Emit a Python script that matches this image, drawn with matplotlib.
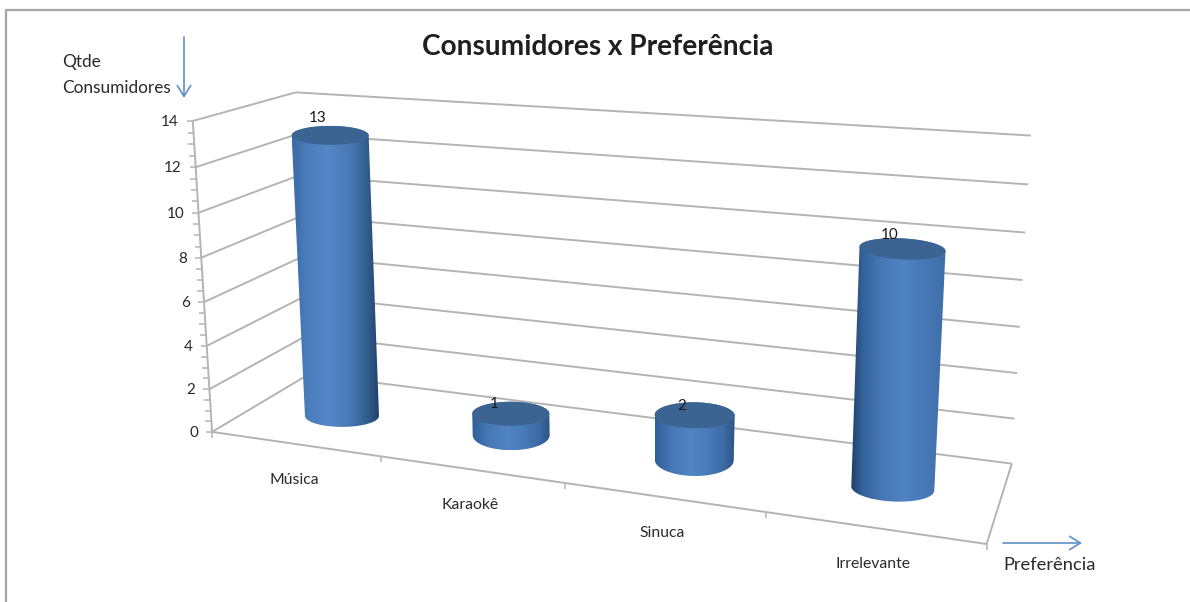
import numpy as np
import matplotlib
matplotlib.use("Agg")
import matplotlib.pyplot as plt
from matplotlib.colors import LinearSegmentedColormap
from matplotlib.patches import Polygon

categories = ["Música", "Karaokê", "Sinuca", "Irrelevante"]
values = [13, 1, 2, 10]
y_ticks = [0, 2, 4, 6, 8, 10, 12, 14]
title = "Consumidores x Preferência"

# ---- camera: (category, value, depth) -> pixel, solved from the frame of the picture
frame_calib = [
    ((0, 0, 0), (212, 432)), ((1, 0, 0), (380, 457)), ((2, 0, 0), (565, 483)),
    ((3, 0, 0), (766, 512)), ((4, 0, 0), (987, 543)),
    ((0, 2, 0), (210, 389)), ((0, 4, 0), (207, 345)), ((0, 6, 0), (204, 301)),
    ((0, 8, 0), (201, 257)), ((0, 10, 0), (198, 212)), ((0, 12, 0), (195, 166)),
    ((0, 14, 0), (191, 120)),
    ((0, 0, 1), (305, 375)), ((0, 12, 1), (298, 133)), ((0, 14, 1), (297, 91)),
    ((4, 0, 1), (1011, 463)), ((4, 2, 1), (1014, 419)), ((4, 4, 1), (1017, 373)),
    ((4, 6, 1), (1020, 327)), ((4, 8, 1), (1022, 279)), ((4, 10, 1), (1025, 232)),
    ((4, 12, 1), (1028, 184)), ((4, 14, 1), (1032, 133)),
]
bar_calib = [
    ((0.5, 0, .5), (343, 414)), ((1.5, 0, .5), (512, 432)),
    ((2.5, 0, .5), (695, 459)), ((3.5, 0, .5), (893, 490)),
    ((0.5, 13, .5), (331, 136)), ((3.5, 10, .5), (903, 248)),
]
A, B = [], []
for (u, v, d), (px, py) in frame_calib + bar_calib * 4:
    A.append([u, v, d, 1, 0, 0, 0, 0, -px*u, -px*v, -px*d]); B.append(px)
    A.append([0, 0, 0, 0, u, v, d, 1, -py*u, -py*v, -py*d]); B.append(py)
M = np.append(np.linalg.lstsq(np.array(A, float), np.array(B, float), rcond=None)[0], 1).reshape(3, 4)


def proj(u, v, d):
    h = M @ np.array([u, v, d, 1.0])
    return h[0] / h[2], h[1] / h[2]


# ---- style per cylinder
bar_centre = [0.525, 1.5, 2.5, 3.5]
bar_depth = [0.45, 0.5, 0.5, 0.48]
half_w_bottom = [37, 38.5, 39.5, 41.5]
half_w_top = [38.5, 38.5, 40, 43]
ell_bottom = [11, 15, 16, 13]
ell_top = [9.5, 12, 13, 10.5]
tilt = [0.0, 0.0, 0.01, 0.05]
label_offset = [(-12, -17), (-17, -10), (-13, -9), (-13, -14)]
mid_stops = [(0, "#2f5f98"), (.2, "#4677b5"), (.45, "#5184c4"), (.65, "#4a7bb9"), (.85, "#3d6ca6"), (1, "#2c5588")]
stops = [
    [(0, "#3a6ba6"), (.15, "#4a7bbb"), (.4, "#5587c8"), (.65, "#4a79b5"), (.85, "#335f90"), (1, "#1d3f68")],
    mid_stops,
    mid_stops,
    [(0, "#1e4069"), (.12, "#34629a"), (.3, "#4576b4"), (.55, "#5083c3"), (.8, "#4677b4"), (1, "#3f6fa9")],
]
GRID = "#b4b4b4"
INK = "#2a2a2a"
ARROW = "#5f8fca"
FONT = ["Lato", "DejaVu Sans"]

fig = plt.figure(figsize=(11.9, 6.02), dpi=100)
ax = fig.add_axes([0, 0, 1, 1])
ax.axis("off")


def seg(p, q, **kw):
    kw.setdefault("color", GRID)
    kw.setdefault("lw", 1.4)
    ax.plot([p[0], q[0]], [p[1], q[1]], solid_capstyle="butt", zorder=2, **kw)


# outer chart border
ax.plot([6, 6, 1190], [602, 10, 10], color="#a6a6a6", lw=1.6, zorder=1)

n = len(categories)
vmax = max(y_ticks)
# walls
for t in y_ticks:
    seg(proj(0, t, 0), proj(0, t, 1))
    seg(proj(0, t, 1), proj(n, t, 1))
seg(proj(0, 0, 0), proj(0, vmax, 0))
# floor
seg(proj(0, 0, 0), proj(n, 0, 0))
seg(proj(n, 0, 0), proj(n, 0, 1))
# ticks on the value axis
for t in np.arange(0, vmax + .1, 0.5):
    x, y = proj(0, t, 0)
    seg((x - 6, y), (x, y), lw=1.1)
for t in y_ticks:
    x, y = proj(0, t, 0)
    ax.text(x - 14, y + 1, str(t), ha="right", va="center", fontsize=11,
            color=INK, family=FONT, zorder=6)
# ticks on the category axis
for i in range(n + 1):
    x, y = proj(i, 0, 0)
    seg((x, y), (x, y + 6), lw=1.1)
for i, c in enumerate(categories):
    x, y = proj(i + .5, 0, 0)
    ax.text(x - 1, y + 36, c, ha="center", va="center", fontsize=11.3,
            color=INK, family=FONT, zorder=6)

# cylinders
T = np.linspace(0, 2 * np.pi, 90)
for i, val in enumerate(values):
    bx, by = proj(bar_centre[i], 0, bar_depth[i])
    tx, ty = proj(bar_centre[i], val, bar_depth[i])
    ab, at = half_w_bottom[i], half_w_top[i]
    eb, et = ell_bottom[i], ell_top[i]
    k = tilt[i]
    lower = np.linspace(np.pi, 0, 45)      # bottom rim, left to right via the front
    upper = np.linspace(0, -np.pi, 45)     # top rim, right to left via the back
    xs = np.r_[bx + ab*np.cos(lower), tx + at*np.cos(upper)]
    ys = np.r_[by + eb*np.sin(lower) + k*ab*np.cos(lower),
               ty + et*np.sin(upper) + k*at*np.cos(upper)]
    body = Polygon(np.c_[xs, ys], closed=True, fc="none", ec="none", zorder=3)
    ax.add_patch(body)
    cmap = LinearSegmentedColormap.from_list(f"c{i}", stops[i])
    left, right = xs.min(), xs.max()
    im = ax.imshow(np.linspace(0, 1, 256)[None, :], cmap=cmap, aspect="auto",
                   extent=(left, right, ys.max(), ys.min()), zorder=3)
    im.set_clip_path(body)
    ax.fill(tx + at*np.cos(T), ty + et*np.sin(T) + k*at*np.cos(T),
            color="#3c6492", lw=0, zorder=4)
    ox, oy = label_offset[i]
    ax.text(tx + ox, ty + oy, str(val), ha="center", va="center", fontsize=11,
            color="#1a1a1a", family=FONT, zorder=6)

# titles and annotations
ax.text(597.5, 47, title, ha="center", va="center", fontsize=20.2, fontweight="bold",
        color="#1f1f1f", family=FONT, zorder=6)
ax.text(62, 62, "Qtde", ha="left", va="center", fontsize=12.4, color=INK, family=FONT)
ax.text(62, 88, "Consumidores", ha="left", va="center", fontsize=12.4, color=INK, family=FONT)
ax.text(1003, 565, "Preferência", ha="left", va="center", fontsize=13.2, color=INK, family=FONT)
for start, end in [((184, 37), (184, 98)), ((1003, 543), (1082, 543))]:
    ax.annotate("", xy=end, xytext=start,
                arrowprops=dict(arrowstyle="->,head_length=0.65,head_width=0.4", color=ARROW,
                                lw=1.2, shrinkA=0, shrinkB=0, mutation_scale=12))

ax.set_xlim(0, 1190)
ax.set_ylim(602, 0)
fig.savefig("out.png", dpi=100, facecolor="white")
